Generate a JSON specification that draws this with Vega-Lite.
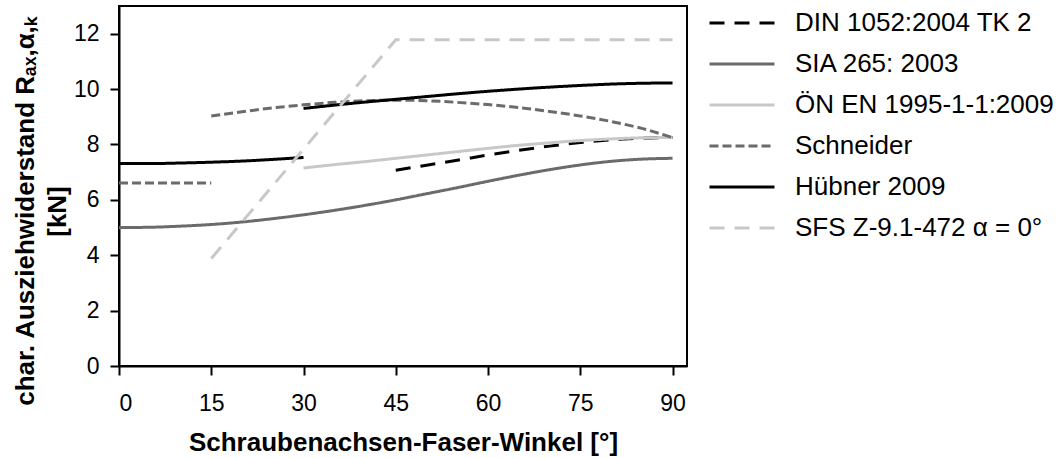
{
  "$schema": "https://vega.github.io/schema/vega-lite/v6.json",
  "autosize": {"type": "none"},
  "padding": {"left": 119, "top": 6, "right": 377, "bottom": 92},
  "width": 568,
  "height": 360,
  "config": {
    "font": "Liberation Sans",
    "view": {"stroke": "#000000", "strokeWidth": 2}
  },
  "datasets": {"d": [
    {"s": "DIN 1052:2004 TK 2", "g": "a", "x": 45, "y": 7.07},
    {"s": "DIN 1052:2004 TK 2", "g": "a", "x": 50, "y": 7.25},
    {"s": "DIN 1052:2004 TK 2", "g": "a", "x": 55, "y": 7.43},
    {"s": "DIN 1052:2004 TK 2", "g": "a", "x": 60, "y": 7.62},
    {"s": "DIN 1052:2004 TK 2", "g": "a", "x": 65, "y": 7.79},
    {"s": "DIN 1052:2004 TK 2", "g": "a", "x": 70, "y": 7.94},
    {"s": "DIN 1052:2004 TK 2", "g": "a", "x": 75, "y": 8.07},
    {"s": "DIN 1052:2004 TK 2", "g": "a", "x": 80, "y": 8.17},
    {"s": "DIN 1052:2004 TK 2", "g": "a", "x": 85, "y": 8.23},
    {"s": "DIN 1052:2004 TK 2", "g": "a", "x": 90, "y": 8.25},
    {"s": "SIA 265: 2003", "g": "a", "x": 0, "y": 5.0},
    {"s": "SIA 265: 2003", "g": "a", "x": 5, "y": 5.01},
    {"s": "SIA 265: 2003", "g": "a", "x": 10, "y": 5.05},
    {"s": "SIA 265: 2003", "g": "a", "x": 15, "y": 5.11},
    {"s": "SIA 265: 2003", "g": "a", "x": 20, "y": 5.2},
    {"s": "SIA 265: 2003", "g": "a", "x": 25, "y": 5.32},
    {"s": "SIA 265: 2003", "g": "a", "x": 30, "y": 5.46},
    {"s": "SIA 265: 2003", "g": "a", "x": 35, "y": 5.62},
    {"s": "SIA 265: 2003", "g": "a", "x": 40, "y": 5.8},
    {"s": "SIA 265: 2003", "g": "a", "x": 45, "y": 6.0},
    {"s": "SIA 265: 2003", "g": "a", "x": 50, "y": 6.22},
    {"s": "SIA 265: 2003", "g": "a", "x": 55, "y": 6.44},
    {"s": "SIA 265: 2003", "g": "a", "x": 60, "y": 6.67},
    {"s": "SIA 265: 2003", "g": "a", "x": 65, "y": 6.89},
    {"s": "SIA 265: 2003", "g": "a", "x": 70, "y": 7.09},
    {"s": "SIA 265: 2003", "g": "a", "x": 75, "y": 7.26},
    {"s": "SIA 265: 2003", "g": "a", "x": 80, "y": 7.39},
    {"s": "SIA 265: 2003", "g": "a", "x": 85, "y": 7.47},
    {"s": "SIA 265: 2003", "g": "a", "x": 90, "y": 7.5},
    {"s": "ÖN EN 1995-1-1:2009", "g": "a", "x": 30, "y": 7.15},
    {"s": "ÖN EN 1995-1-1:2009", "g": "a", "x": 35, "y": 7.27},
    {"s": "ÖN EN 1995-1-1:2009", "g": "a", "x": 40, "y": 7.38},
    {"s": "ÖN EN 1995-1-1:2009", "g": "a", "x": 45, "y": 7.5},
    {"s": "ÖN EN 1995-1-1:2009", "g": "a", "x": 50, "y": 7.62},
    {"s": "ÖN EN 1995-1-1:2009", "g": "a", "x": 55, "y": 7.74},
    {"s": "ÖN EN 1995-1-1:2009", "g": "a", "x": 60, "y": 7.86},
    {"s": "ÖN EN 1995-1-1:2009", "g": "a", "x": 65, "y": 7.97},
    {"s": "ÖN EN 1995-1-1:2009", "g": "a", "x": 70, "y": 8.06},
    {"s": "ÖN EN 1995-1-1:2009", "g": "a", "x": 75, "y": 8.14},
    {"s": "ÖN EN 1995-1-1:2009", "g": "a", "x": 80, "y": 8.2},
    {"s": "ÖN EN 1995-1-1:2009", "g": "a", "x": 85, "y": 8.24},
    {"s": "ÖN EN 1995-1-1:2009", "g": "a", "x": 90, "y": 8.25},
    {"s": "Schneider", "g": "a", "x": 0, "y": 6.61},
    {"s": "Schneider", "g": "a", "x": 15, "y": 6.61},
    {"s": "Schneider", "g": "b", "x": 15, "y": 9.03},
    {"s": "Schneider", "g": "b", "x": 20, "y": 9.18},
    {"s": "Schneider", "g": "b", "x": 25, "y": 9.32},
    {"s": "Schneider", "g": "b", "x": 30, "y": 9.43},
    {"s": "Schneider", "g": "b", "x": 35, "y": 9.52},
    {"s": "Schneider", "g": "b", "x": 40, "y": 9.58},
    {"s": "Schneider", "g": "b", "x": 45, "y": 9.6},
    {"s": "Schneider", "g": "b", "x": 50, "y": 9.58},
    {"s": "Schneider", "g": "b", "x": 55, "y": 9.52},
    {"s": "Schneider", "g": "b", "x": 60, "y": 9.44},
    {"s": "Schneider", "g": "b", "x": 65, "y": 9.33},
    {"s": "Schneider", "g": "b", "x": 70, "y": 9.19},
    {"s": "Schneider", "g": "b", "x": 75, "y": 9.03},
    {"s": "Schneider", "g": "b", "x": 80, "y": 8.83},
    {"s": "Schneider", "g": "b", "x": 85, "y": 8.58},
    {"s": "Schneider", "g": "b", "x": 90, "y": 8.25},
    {"s": "Hübner 2009", "g": "a", "x": 0, "y": 7.31},
    {"s": "Hübner 2009", "g": "a", "x": 5, "y": 7.31},
    {"s": "Hübner 2009", "g": "a", "x": 10, "y": 7.33},
    {"s": "Hübner 2009", "g": "a", "x": 15, "y": 7.36},
    {"s": "Hübner 2009", "g": "a", "x": 20, "y": 7.4},
    {"s": "Hübner 2009", "g": "a", "x": 25, "y": 7.46},
    {"s": "Hübner 2009", "g": "a", "x": 30, "y": 7.53},
    {"s": "Hübner 2009", "g": "b", "x": 30, "y": 9.3},
    {"s": "Hübner 2009", "g": "b", "x": 35, "y": 9.42},
    {"s": "Hübner 2009", "g": "b", "x": 40, "y": 9.53},
    {"s": "Hübner 2009", "g": "b", "x": 45, "y": 9.63},
    {"s": "Hübner 2009", "g": "b", "x": 50, "y": 9.73},
    {"s": "Hübner 2009", "g": "b", "x": 55, "y": 9.83},
    {"s": "Hübner 2009", "g": "b", "x": 60, "y": 9.92},
    {"s": "Hübner 2009", "g": "b", "x": 65, "y": 10.0},
    {"s": "Hübner 2009", "g": "b", "x": 70, "y": 10.07},
    {"s": "Hübner 2009", "g": "b", "x": 75, "y": 10.13},
    {"s": "Hübner 2009", "g": "b", "x": 80, "y": 10.18},
    {"s": "Hübner 2009", "g": "b", "x": 85, "y": 10.21},
    {"s": "Hübner 2009", "g": "b", "x": 90, "y": 10.22},
    {"s": "SFS Z-9.1-472 α = 0°", "g": "a", "x": 15, "y": 3.88},
    {"s": "SFS Z-9.1-472 α = 0°", "g": "a", "x": 45, "y": 11.78},
    {"s": "SFS Z-9.1-472 α = 0°", "g": "a", "x": 90, "y": 11.78}
  ]},
  "data": {"name": "d"},
  "encoding": {
    "x": {"field": "x", "type": "quantitative", "scale": {"domain": [0, 92.35], "nice": false, "zero": false},
      "axis": {"values": [0, 15, 30, 45, 60, 75, 90], "grid": false, "title": "Schraubenachsen-Faser-Winkel [°]", "labelPadding": 17, "titlePadding": 14,
        "domainColor": "#000000", "domainWidth": 2, "tickColor": "#000000", "tickWidth": 2, "tickSize": 9, "labelFontSize": 23, "labelColor": "#000000", "labelFont": "Liberation Sans", "titleFont": "Liberation Sans", "titleFontSize": 26, "titleFontWeight": "bold", "titleColor": "#000000"}},
    "y": {"field": "y", "type": "quantitative", "scale": {"domain": [0, 13], "nice": false},
      "axis": {"values": [0, 2, 4, 6, 8, 10, 12], "grid": false, "title": ["char.  Ausziehwiderstand Rₐₓ,α,ₖ", "[kN]"], "titleLineHeight": 32, "titleY": 205, "titleAlign": "center", "labelPadding": 11, "titlePadding": 3,
        "domainColor": "#000000", "domainWidth": 2, "tickColor": "#000000", "tickWidth": 2, "tickSize": 9, "labelFontSize": 23, "labelColor": "#000000", "labelFont": "Liberation Sans", "titleFont": "Liberation Sans", "titleFontSize": 26, "titleFontWeight": "bold", "titleColor": "#000000"}},
    "detail": {"field": "g"},
    "color": {"field": "s", "type": "nominal",
      "scale": {"domain": ["DIN 1052:2004 TK 2", "SIA 265: 2003", "ÖN EN 1995-1-1:2009", "Schneider", "Hübner 2009", "SFS Z-9.1-472 α = 0°"],
        "range": ["#000000", "#6b6b6b", "#c8c8c8", "#6b6b6b", "#000000", "#c8c8c8"]},
      "legend": {"title": null, "orient": "none", "legendX": 605, "legendY": -1, "padding": 0, "symbolType": "M-2,0H2", "symbolSize": 1056, "symbolStrokeWidth": 3, "labelFontSize": 26, "labelColor": "#000000", "labelFont": "Liberation Sans", "labelOffset": 35, "rowPadding": 10, "labelLimit": 400}},
    "strokeDash": {"field": "s", "type": "nominal",
      "scale": {"domain": ["DIN 1052:2004 TK 2", "SIA 265: 2003", "ÖN EN 1995-1-1:2009", "Schneider", "Hübner 2009", "SFS Z-9.1-472 α = 0°"],
        "range": [[15, 10], [1, 0], [1, 0], [9, 4], [1, 0], [15, 10]]},
      "legend": {"title": null, "orient": "none", "legendX": 605, "legendY": -1, "padding": 0, "symbolType": "M-2,0H2", "symbolSize": 1056, "symbolStrokeWidth": 3, "labelFontSize": 26, "labelColor": "#000000", "labelFont": "Liberation Sans", "labelOffset": 35, "rowPadding": 10, "labelLimit": 400}}
  },
  "layer": [
    {"transform": [{"filter": "datum.s !== 'SFS Z-9.1-472 α = 0°'"}], "mark": {"type": "line", "strokeWidth": 3, "interpolate": "monotone"}},
    {"transform": [{"filter": "datum.s === 'SFS Z-9.1-472 α = 0°'"}], "mark": {"type": "line", "strokeWidth": 3, "interpolate": "linear"}}
  ]
}
